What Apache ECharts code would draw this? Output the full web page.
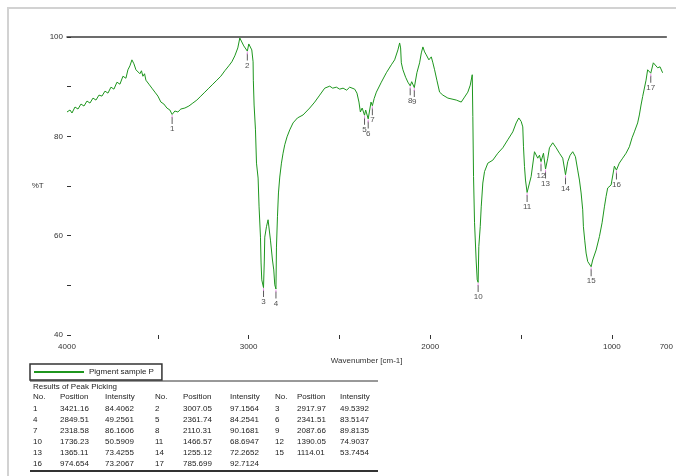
<!DOCTYPE html>
<html>
<head>
<meta charset="utf-8">
<script src="https://cdn.jsdelivr.net/npm/echarts@6/dist/echarts.min.js"></script>
<style>
  html, body { margin: 0; padding: 0; background: #fff; }
  #chart { width: 676px; height: 476px; }
</style>
</head>
<body>
<div id="chart"></div>
<script>
// IR spectrum of the pigment sample: wavenumber (cm-1) and transmittance (%T)
const wavenumbers = [
  4000, 3983.5, 3972.5, 3956, 3939.5, 3923, 3906.5, 3890, 3873.5, 3857, 3840.5, 3824, 3807.5, 3791,
  3774.5, 3758, 3741.5, 3725, 3708.5, 3692, 3675.5, 3664.5, 3653.5, 3642.5, 3631.5, 3620.5, 3609.5,
  3598.5, 3590, 3582, 3573, 3565.5, 3557, 3549, 3532.5, 3516, 3499.5, 3483, 3466.5, 3450, 3433.5,
  3421.16, 3406, 3389.5, 3373, 3351, 3329, 3307, 3285, 3263, 3241, 3219, 3197, 3175, 3153, 3131,
  3109, 3092.5, 3076, 3059.5, 3048.5, 3037.5, 3026.5, 3007.05, 2999, 2988, 2982.5,
  2975.4, 2974, 2969.8, 2962.2, 2956.6, 2947.8, 2942.4, 2934.7, 2931.4, 2927.5, 2917.97, 2913.8,
  2911, 2901.7, 2892.9, 2879.7, 2868.7, 2861.5, 2856, 2849.51, 2846.7, 2841.2, 2835.7, 2828.5,
  2819.2, 2810.4, 2801, 2788.4, 2773.5, 2755.4, 2731.2, 2700.4, 2663.5, 2636, 2608.5, 2581, 2553.5,
  2537, 2516.7, 2498.5, 2480, 2460, 2443.5, 2416, 2403.4, 2392.4, 2384.7, 2374.8, 2361.74, 2355.5,
  2341.51, 2333.5, 2326, 2318.58, 2308.8, 2296.6, 2269.2, 2241.6, 2214.2, 2196, 2177.9, 2168.5,
  2163, 2159.2, 2150.4, 2135.5, 2122.9, 2110.31, 2102, 2087.66, 2073.4, 2058.5, 2049, 2040.4, 2031,
  2021.7, 2007.4, 1994.2, 1985.4, 1976, 1963.4, 1948.5, 1930.4, 1902.9, 1893.5, 1856.6, 1829.2,
  1811, 1792.9, 1779.7, 1768.7, 1765.4, 1761.5, 1756, 1746.7, 1741.2, 1736.23, 1732.4, 1724.7,
  1719.2, 1710.4, 1701, 1682.9, 1655.4, 1627.9, 1600.4, 1572.9, 1545.4, 1526.7, 1512.4, 1499.2,
  1490.4, 1486.5, 1481, 1475.5, 1466.57, 1453.5, 1444.4, 1426, 1407.9, 1398.5, 1390.05, 1376.5,
  1365.11, 1352.9, 1343.5, 1325.4, 1306.7, 1288.5, 1270.4, 1255.12, 1242.9, 1229.7, 1215.4, 1200.5,
  1187.9, 1178.5, 1169.2, 1160.4, 1156.5, 1149.4, 1141.7, 1132.9, 1114.01, 1105.4, 1086.7, 1068.5,
  1053.7, 1041, 1031.7, 1022.9, 1004.2, 986, 974.654, 959, 940.4, 921.7, 903.5, 888.7, 876, 857.9,
  848.5, 839.2, 830.4, 811.7, 802.9, 785.699, 771.5, 760.5, 747.9, 734.6, 720.4
];
const transmittance = [
  84.9, 85.3, 84.7, 85.9, 85.5, 86.5, 86.1, 87.1, 86.7, 87.7, 87.3, 88.3, 88.1, 89.1,
  88.7, 89.9, 89.5, 90.9, 90.5, 92.1, 91.7, 93.4, 94.2, 95.4, 94.6, 93.4, 93.8,
  92.6, 93.2, 92.1, 92.6, 91.3, 91.6, 90.5, 89.7, 88.9, 88.1, 86.9, 86.5, 85.7, 85.3,
  84.4062, 85.1, 84.9, 85.5, 85.7, 86.1, 86.7, 87.3, 88.1, 88.9, 89.7, 90.5, 91.3, 92.1, 93.2,
  94.2, 95.0, 96.2, 97.8, 99.8, 99.0, 98.2, 97.1564, 98.6, 98.8, 97.4,
  95.0, 91.3, 86.3, 81.3, 74.6, 71.6, 65.8, 59.7, 54.5, 51.1, 49.5392, 54.7,
  59.7, 61.8, 63.2, 59.1, 55.1, 53.1, 50.1, 49.2561, 57.7, 63.8, 68.6, 71.8,
  74.6, 76.6, 78.3, 79.9, 81.3, 82.7, 83.7, 84.3, 85.7, 86.9, 88.3, 89.7, 90.1,
  89.7, 89.9, 89.5, 89.7, 89.3, 89.9, 89.5, 88.7, 86.9, 84.9, 85.7, 84.2541, 85.3,
  83.5147, 85.3, 86.9, 86.1606, 87.6, 88.9, 90.9, 92.8, 94.4, 95.4, 97.4, 98.8,
  97.8, 94.8, 93.4, 91.9, 90.9, 90.1681, 91.0, 89.8135, 92.8, 94.8, 96.8, 98.0, 97.0,
  96.4, 95.4, 96.0, 94.8, 93.4, 91.3, 88.9, 88.3, 87.7, 87.7, 87.3, 86.9,
  87.9, 88.9, 90.3, 92.4, 84.0, 71.9, 62.6, 54.7, 51.1, 50.5909, 57.8, 61.8,
  65.8, 70.6, 72.9, 74.6, 75.2, 76.6, 77.7, 79.3, 80.9, 82.7, 83.7, 83.0,
  81.9, 77.9, 73.9, 71.2, 68.6947, 70.6, 71.9, 76.9, 75.6, 76.2, 74.9037, 76.6,
  73.4255, 75.6, 77.7, 78.7, 77.7, 76.6, 75.6, 72.2652, 74.9, 76.2, 76.9, 75.9,
  73.2, 71.2, 68.6, 65.2, 61.8, 59.1, 56.5, 54.8, 53.7454, 55.1, 57.1, 59.8,
  62.6, 65.8, 67.9, 69.6, 70.2, 74.0, 73.2067, 74.6, 75.6, 76.6, 77.9, 79.7, 80.9, 82.7,
  84.3, 86.3, 88.0, 91.3, 93.4, 92.7124, 94.8, 95.0, 93.8, 94.0, 92.8
];

// Picked peaks
const peakNumbers = [1, 2, 3, 4, 5, 6, 7, 8, 9, 10, 11, 12, 13, 14, 15, 16, 17];
const peakPositions = [3421.16, 3007.05, 2917.97, 2849.51, 2361.74, 2341.51, 2318.58, 2110.31, 2087.66,
  1736.23, 1466.57, 1390.05, 1365.11, 1255.12, 1114.01, 974.654, 785.699];
const peakIntensities = [84.4062, 97.1564, 49.5392, 49.2561, 84.2541, 83.5147, 86.1606, 90.1681, 89.8135,
  50.5909, 68.6947, 74.9037, 73.4255, 72.2652, 53.7454, 73.2067, 92.7124];

// Axis ticks and labels
const xTickValues = [3500, 3000, 2500, 2000, 1500, 1000];
const xLabelValues = [4000, 3000, 2000, 1000, 700];
const yLabelValues = [100, 80, 60, 40];

const sampleName = 'Pigment sample P';
const FONT = '"Liberation Sans", Arial, sans-serif';

const spectrum = wavenumbers.map((w, i) => [w, transmittance[i]]);
const peaks = peakPositions.map((p, i) => [p, peakIntensities[i], peakNumbers[i]]);

// Peak table: three peaks per row
const tableLeft = 33, tableRight = 378, tableTop = 381;
const colX = [0, 27, 72, 122, 150, 197, 242, 264, 307];
const rowH = 11;
const headerY = tableTop + 16;
const g = [];
g.push({ type: 'rect', shape: { x: 8, y: 8, width: 700, height: 500 },
  style: { fill: 'none', stroke: '#d2d2d2', lineWidth: 2 }, silent: true });
g.push({ type: 'line', shape: { x1: tableLeft - 3, y1: tableTop, x2: tableRight, y2: tableTop },
  style: { stroke: '#333', lineWidth: 1 } });
g.push({ type: 'text', x: tableLeft, y: tableTop + 2,
  style: { text: 'Results of Peak Picking', font: '8px ' + FONT, fill: '#222' } });
const headers = ['No.', 'Position', 'Intensity'];
for (let c = 0; c < 3; c++) {
  for (let k = 0; k < 3; k++) {
    g.push({ type: 'text', x: tableLeft + colX[c * 3 + k], y: headerY - 4,
      style: { text: headers[k], font: '8px ' + FONT, fill: '#222' } });
  }
}
peakNumbers.forEach((n, i) => {
  const r = Math.floor(i / 3), c = i % 3;
  const y = headerY + 8 + r * rowH;
  const cells = [String(n), peakPositions[i].toPrecision(6), peakIntensities[i].toFixed(4)];
  cells.forEach((t, k) => {
    g.push({ type: 'text', x: tableLeft + colX[c * 3 + k], y: y,
      style: { text: t, font: '8px ' + FONT, fill: '#222' } });
  });
});
const tableBottom = headerY + 8 + 6 * rowH;
g.push({ type: 'line', shape: { x1: tableLeft - 3, y1: tableBottom, x2: tableRight, y2: tableBottom },
  style: { stroke: '#333', lineWidth: 2 } });

const chart = echarts.init(document.getElementById('chart'), null, { renderer: 'canvas' });
chart.setOption({
  animation: false,
  backgroundColor: '#fff',
  textStyle: { fontFamily: FONT },
  grid: { left: 67, top: 37, width: 600, height: 298 },
  legend: {
    data: [sampleName], left: 30, top: 364, orient: 'horizontal',
    icon: 'rect', itemWidth: 50, itemHeight: 2, itemGap: 4,
    borderColor: '#333', borderWidth: 1.5, borderRadius: 0, padding: [4, 8, 4, 4],
    textStyle: { fontSize: 8, color: '#222', fontFamily: FONT },
    selectedMode: false
  },
  xAxis: [{
    type: 'value', inverse: true, min: 700, max: 4000, position: 'bottom',
    axisLine: { show: false },
    axisTick: { show: true, customValues: xTickValues, length: 4, lineStyle: { color: '#333' } },
    axisLabel: { customValues: xLabelValues, fontSize: 8, color: '#333', margin: 8,
      formatter: v => String(v) },
    splitLine: { show: false },
    name: 'Wavenumber [cm-1]', nameLocation: 'middle', nameGap: 22,
    nameTextStyle: { fontSize: 8, color: '#333' }
  }, {
    type: 'value', inverse: true, min: 700, max: 4000, position: 'top',
    axisLine: { show: true, lineStyle: { color: '#3c3c3c', width: 1.5 } },
    axisTick: { show: false }, axisLabel: { show: false }, splitLine: { show: false }
  }],
  yAxis: {
    type: 'value', min: 40, max: 100, interval: 10,
    axisLine: { show: false },
    axisTick: { show: true, inside: true, length: 4, lineStyle: { color: '#333' } },
    axisLabel: {
      fontSize: 8, color: '#333', margin: 4,
      formatter: v => (yLabelValues.indexOf(v) >= 0 ? String(v) : '')
    },
    splitLine: { show: false },
    name: '%T', nameLocation: 'middle', nameRotate: 0, nameGap: 22,
    nameTextStyle: { fontSize: 8, color: '#333' }
  },
  series: [{
    name: sampleName, type: 'line', data: spectrum, showSymbol: false,
    lineStyle: { color: '#1e961e', width: 1 }, itemStyle: { color: '#1e961e' },
    z: 2
  }, {
    name: 'peaks', type: 'scatter', data: peaks,
    symbol: 'rect', symbolSize: [1, 7], symbolOffset: [0, 6],
    itemStyle: { color: '#333' },
    label: {
      show: true, position: 'bottom', distance: 1, fontSize: 8, color: '#222',
      formatter: p => String(p.value[2])
    },
    z: 3
  }, {
    name: 'peak points', type: 'scatter', data: peaks,
    symbol: 'rect', symbolSize: [1, 3], symbolOffset: [0, 2],
    itemStyle: { color: '#e07ee0' }, z: 4
  }],
  graphic: g
});
</script>
</body>
</html>
